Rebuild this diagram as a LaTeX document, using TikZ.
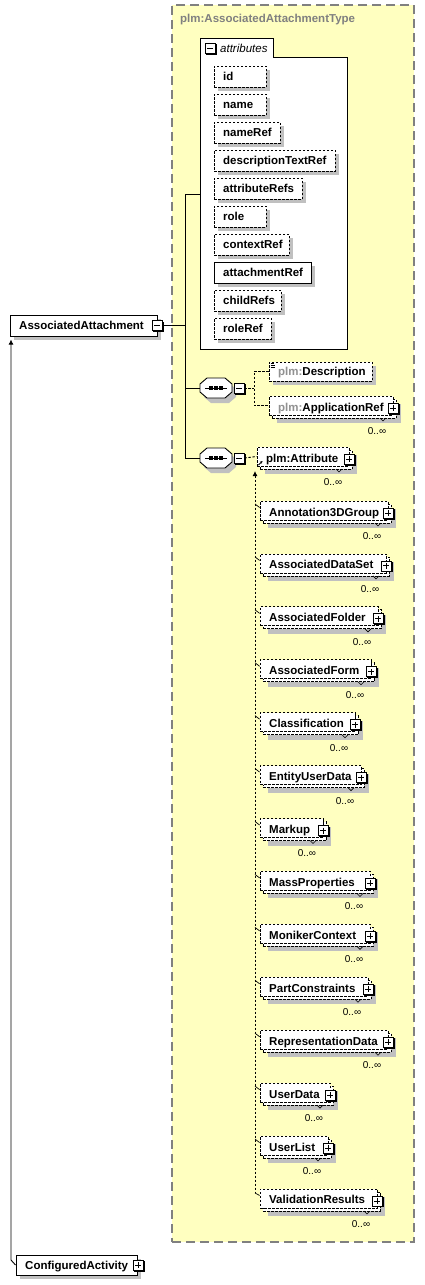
\documentclass[tikz,border=0pt]{standalone}
\usepackage{fontspec}
\setmainfont{Liberation Sans}
\usetikzlibrary{arrows.meta,fit}
\definecolor{bgyellow}{RGB}{255,255,192}
\definecolor{shadowgray}{RGB}{192,192,192}
\definecolor{bordergray}{RGB}{128,128,128}
\definecolor{prefixgray}{RGB}{145,145,145}

% collapse / expand boxes
\newcommand\xsminus[3]{%
  \fill[black] (#2-4,#3-4) rectangle (#2+6.5,#3+6.5);
  \node[togglebox] (#1) at (#2,#3) {};
  \draw[line width=0.9pt] (#2-3,#3) -- (#2+3,#3);
}
\newcommand\xsplus[3]{%
  \fill[black] (#2-4,#3-4) rectangle (#2+6.5,#3+6.5);
  \node[togglebox] (#1) at (#2,#3) {};
  \draw[line width=0.9pt] (#2-3,#3) -- (#2+3,#3) (#2,#3-3) -- (#2,#3+3);
}
% sequence compositor
\newcommand\xsseq[3]{%
  \begin{scope}[shift={(#2,#3)}]
    \fill[shadowgray] (-5,-5) -- (13,-5) -- (20,1) -- (20,9) -- (13,15) -- (-5,15) -- (-12,9) -- (-12,1) -- cycle;
    \draw[fill=white,line width=0.9pt] (-9,-10) -- (9,-10) -- (16,-4) -- (16,4) -- (9,10) -- (-9,10) -- (-16,4) -- (-16,-4) -- cycle;
    \draw[line width=0.9pt] (-11,0) -- (11,0);
    \foreach \dx in {-5,0,5} \fill (\dx-1.8,-1.8) rectangle (\dx+1.8,1.8);
  \end{scope}
  \node[fit={(#2-16,#3-10)(#2+16,#3+10)},inner sep=0pt] (#1) {};
}
% element that may occur many times (stacked box)
\newcommand\xsstack[5]{%
  \fill[shadowgray] (#2+8,#3-3) rectangle (#4+8,#3+16);
  \node[dashbox, fit={(#2+3,#3-8)(#4+3,#3+11)}] (#1-back) {};
  \node[dashbox, fit={(#2,#3-11)(#4,#3+8)}] (#1) {};
  \node[txt] (#1-t) at (#2+9,#3+4) {#5};
  \xsplus{#1-p}{#4}{#3+1}
  \draw[line width=0.6pt] (#4-13,#3+11) -- (#4-10,#3+14) -- (#4-7,#3+11);
  \node[occ] (#1-o) at (#4-16,#3+24) {0..∞};
}
% attribute item
\newcommand\xsattr[5]{%
  \fill[shadowgray] (218,#2+4) rectangle (#3+4,#2+25);
  \node[#5, fit={(214,#2)(#3,#2+21)}] (#1) {};
  \node[txt] (#1-t) at (223,#2+14.5) {#4};
}

\begin{document}
\begin{tikzpicture}[x=1pt,y=-1pt,
  elfont/.style={font=\fontsize{11.5}{13}\selectfont\bfseries},
  txt/.style={elfont, anchor=base west, inner sep=0pt},
  dashbox/.style={draw=black, line width=0.8pt, dash pattern=on 2.5pt off 1.5pt, fill=white, inner sep=0pt},
  solidbox/.style={draw=black, line width=1pt, fill=white, inner sep=0pt},
  togglebox/.style={draw=black, fill=white, line width=0.8pt, minimum size=10pt, inner sep=0pt},
  conn/.style={draw=black, line width=0.9pt},
  dconn/.style={draw=black, line width=0.9pt, dash pattern=on 2.5pt off 1.5pt},
  occ/.style={font=\fontsize{10}{12}\selectfont, inner sep=0pt},
]
\useasboundingbox (0,0) rectangle (425,1285);
\fill[white] (0,0) rectangle (425,1285);

% complex type frame
\node[fit={(172,5)(414,1242)}, inner sep=0pt, fill=bgyellow, draw=bordergray,
      line width=1.2pt, dash pattern=on 9pt off 5pt] (type) {};
\node[txt, text=bordergray] (typetitle) at (180,22) {plm:AssociatedAttachmentType};

% attributes group
\node[fit={(200,38)(347,349)}, inner sep=0pt] (attrgrp) {};
\draw[line width=1pt, fill=white] (200,38) -- (273,38) -- (273,57) -- (347,57) -- (347,349) -- (200,349) -- cycle;
\xsminus{attrgrp-m}{210}{48}
\node[anchor=base west, inner sep=0pt, font=\fontsize{11.5}{13}\selectfont\itshape] (attrlbl) at (220,52) {attributes};

\xsattr{a-id}{66}{266}{id}{dashbox}
\xsattr{a-name}{94}{266}{name}{dashbox}
\xsattr{a-nameRef}{122}{280}{nameRef}{dashbox}
\xsattr{a-desc}{150}{335}{descriptionTextRef}{dashbox}
\xsattr{a-attrRefs}{178}{302}{attributeRefs}{dashbox}
\xsattr{a-role}{206}{266}{role}{dashbox}
\xsattr{a-ctx}{234}{289}{contextRef}{dashbox}
\xsattr{a-attach}{262}{311}{attachmentRef}{solidbox}
\xsattr{a-child}{290}{281}{childRefs}{dashbox}
\xsattr{a-roleRef}{318}{271}{roleRef}{dashbox}

% root element
\fill[shadowgray] (14,319) rectangle (161,340);
\node[solidbox, fit={(10,315)(157,336)}] (aa) {};
\node[txt] (aa-t) at (19,329.5) {AssociatedAttachment};
\xsminus{aa-m}{157}{325.5}

% trunk
\coordinate (t1) at (185,194);
\coordinate (t2) at (185,388);
\coordinate (t3) at (185,458);
\draw[conn] (aa-m.east) -- (aa-m.east -| t1);
\draw[conn] (t1) -- (t3);
\draw[conn] (t1) -- (t1 -| attrgrp.west);

% sequence 1
\xsseq{seq1}{216}{388}
\xsminus{seq1-m}{239}{388}
\draw[conn] (t2) -- (seq1.west);

\fill[shadowgray] (273,366) rectangle (376,385);
\node[dashbox, fit={(269,362)(372,381)}] (desc) {};
\node[txt] (desc-t) at (278,375.5) {\textcolor{prefixgray}{plm:}Description};
\draw[line width=0.6pt] (270.5,363.5) -- (274,363.5) (270.5,365.5) -- (275,365.5) (270.5,367.5) -- (275,367.5);

\xsstack{appref}{269}{407}{393}{\textcolor{prefixgray}{plm:}ApplicationRef}

\coordinate (s1) at (254,388);
\draw[dconn] (seq1-m.east) -- (s1);
\draw[dconn] (desc.west) -| (s1) |- (appref.west);

% sequence 2
\xsseq{seq2}{216}{458}
\xsminus{seq2-m}{239}{458}
\draw[conn] (t3) -- (seq2.west);

\xsstack{attr}{257}{458}{349}{plm:Attribute}
\draw[line width=0.8pt, -{Stealth[length=2.6pt,width=2.6pt]}] (258.5,465) -- (262.5,461);
\draw[dconn] (seq2-m.east) -- (attr.west);

% substitution group members
\foreach \nm/\txt/\R [count=\k from 0] in {
  ann/Annotation3DGroup/388, ads/AssociatedDataSet/386, afo/AssociatedFolder/378,
  afm/AssociatedForm/371, cls/Classification/355, eud/EntityUserData/361,
  mku/Markup/323, mpr/MassProperties/370, mon/MonikerContext/370,
  pco/PartConstraints/368, rep/RepresentationData/388, ud/UserData/330,
  ul/UserList/328, val/ValidationResults/377} {
  \pgfmathsetmacro\c{512+52.92*\k}
  \xsstack{\nm}{260}{\c}{\R}{\txt}
  \ifnum\k<13
    \draw[line width=0.7pt] (255,\c-8) -- ([yshift=3pt]\nm.west);
  \fi
}
\coordinate (subtop) at (255,471);
\coordinate (subbot) at (255,{512+52.92*13-7});
\draw[dconn, {Latex[length=5pt,width=5pt]}-] (subtop) -- (subbot);
\draw[line width=0.7pt] (subbot) -- ([yshift=3pt]val.west);

% ConfiguredActivity
\fill[shadowgray] (20,1259) rectangle (141,1279);
\node[solidbox, fit={(16,1255)(137,1275)}] (ca) {};
\node[txt] (ca-t) at (25,1269) {ConfiguredActivity};
\xsplus{ca-p}{138}{1265}
\coordinate (aa-in) at (11,339.5);
\draw[conn, -{Latex[length=5pt,width=5pt]}] (ca.west) -- (11,1260) -- (aa-in);
\end{tikzpicture}
\end{document}
